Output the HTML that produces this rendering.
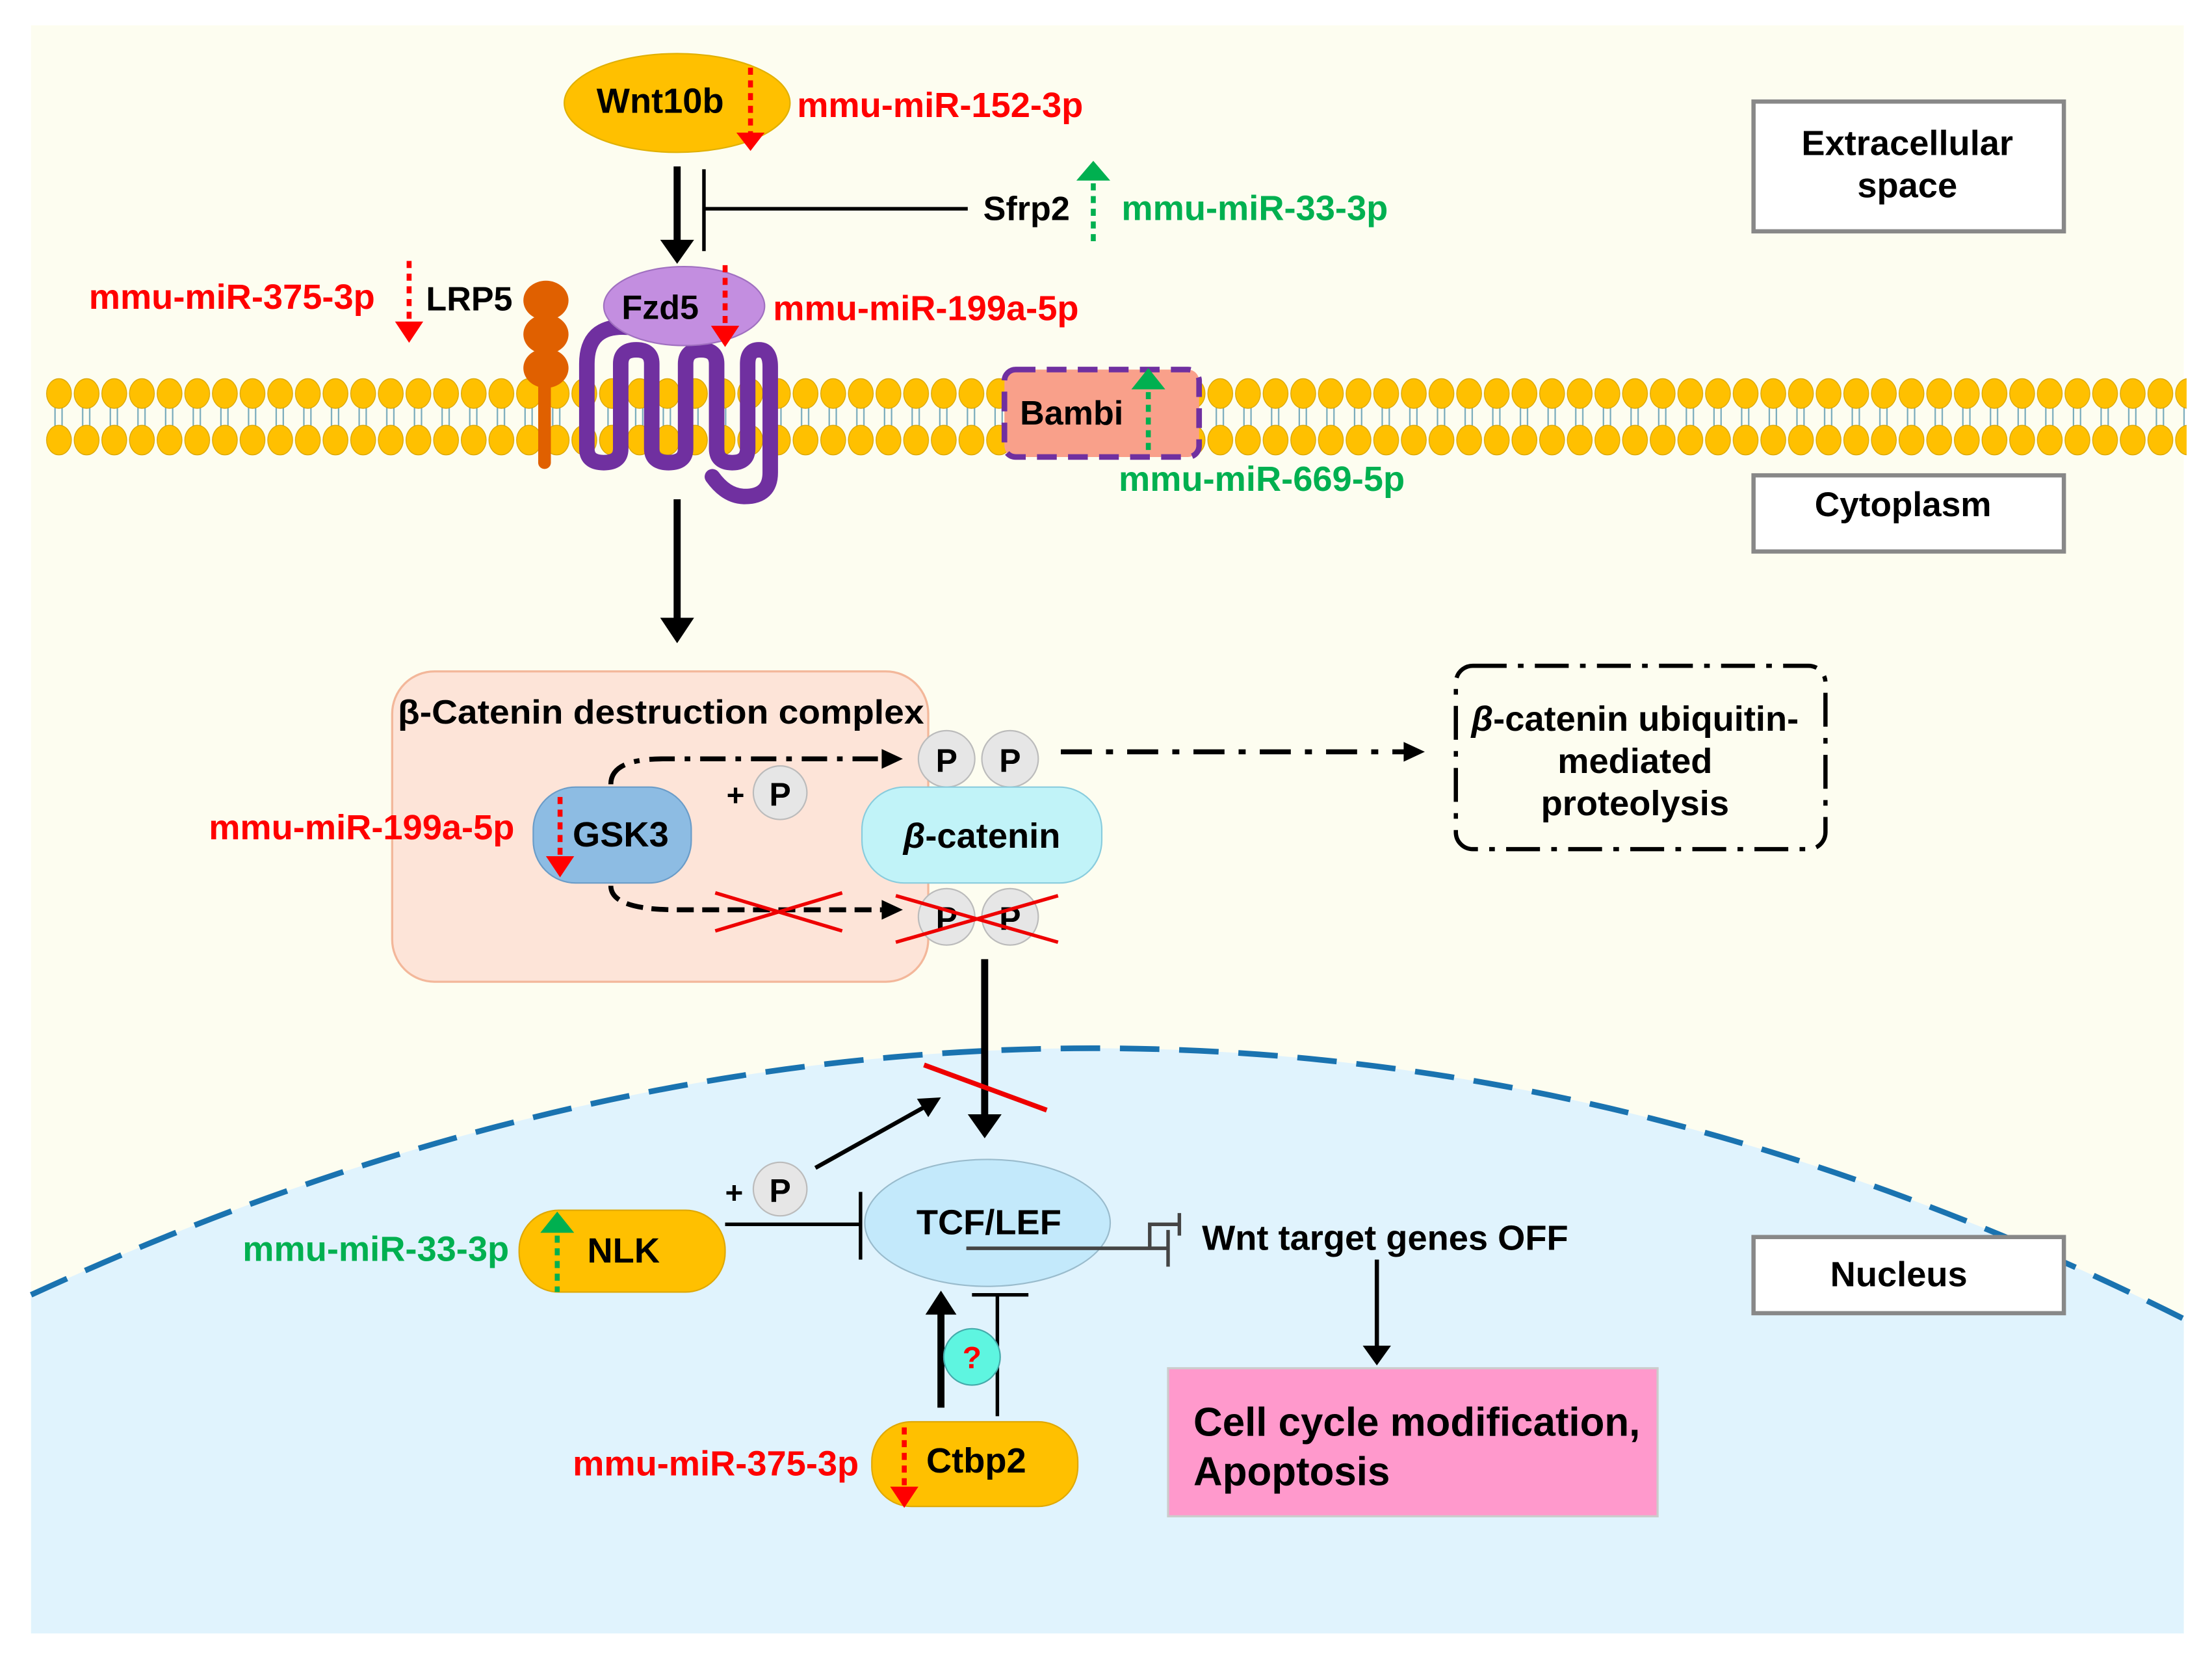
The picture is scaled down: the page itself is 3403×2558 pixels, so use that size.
<!DOCTYPE html>
<html><head><meta charset="utf-8"><style>
html,body{margin:0;padding:0;background:#fff;width:3403px;height:2558px;overflow:hidden}
svg{display:block}
text{font-family:"Liberation Sans",Arial,sans-serif;font-weight:bold}
</style></head><body>
<svg width="3403" height="2558" viewBox="0 0 1568 1179" preserveAspectRatio="none" xmlns="http://www.w3.org/2000/svg">
<defs>
<pattern id="lip" x="32" y="260" width="19.6" height="70" patternUnits="userSpaceOnUse">
<line x1="7" y1="285" x2="7" y2="305" stroke="#7ab" stroke-width="1" transform="translate(0,-260)"/>
<line x1="12" y1="285" x2="12" y2="305" stroke="#7ab" stroke-width="1" transform="translate(0,-260)"/>
<ellipse cx="9.8" cy="19" rx="8.8" ry="10.5" fill="#ffc000" stroke="#d9a400" stroke-width="0.6"/>
<ellipse cx="9.8" cy="52" rx="8.8" ry="10.5" fill="#ffc000" stroke="#d9a400" stroke-width="0.6"/>
</pattern>
</defs>
<rect x="22" y="18" width="1526" height="1140" fill="#fdfdf0"/>
<path d="M22,918 Q800,560 1548,935 L1548,1158 L22,1158 Z" fill="#e0f3fd"/>
<path d="M22,918 Q800,560 1548,935" fill="none" stroke="#1a73b0" stroke-width="4" stroke-dasharray="28 14"/>
<rect x="32" y="262" width="1518" height="66" fill="url(#lip)"/>

<rect x="1243" y="72" width="220" height="92" fill="#fff" stroke="#888" stroke-width="3"/>
<text x="1352" y="110" font-size="25" text-anchor="middle">Extracellular</text>
<text x="1352" y="140" font-size="25" text-anchor="middle">space</text>
<rect x="1243" y="337" width="220" height="54" fill="#fff" stroke="#888" stroke-width="3"/>
<text x="1349" y="366" font-size="24.5" text-anchor="middle">Cytoplasm</text>
<rect x="1243" y="877" width="220" height="54" fill="#fff" stroke="#888" stroke-width="3"/>
<text x="1346" y="912" font-size="25" text-anchor="middle">Nucleus</text>

<ellipse cx="480" cy="73" rx="80" ry="35" fill="#ffc000" stroke="#e0b000"/>
<text x="468" y="80" font-size="25" text-anchor="middle">Wnt10b</text>
<line x1="532" y1="48" x2="532" y2="95" stroke="#f00" stroke-width="3.5" stroke-dasharray="5 4"/>
<path d="M522,94 L542,94 L532,107 Z" fill="#f00"/>
<text x="565" y="83" font-size="25" fill="#f00">mmu-miR-152-3p</text>

<line x1="480" y1="118" x2="480" y2="172" stroke="#000" stroke-width="5"/>
<path d="M468,170 L492,170 L480,187 Z" fill="#000"/>
<line x1="499" y1="120" x2="499" y2="178" stroke="#000" stroke-width="2.5"/>
<line x1="499" y1="148" x2="686" y2="148" stroke="#000" stroke-width="2.5"/>
<text x="697" y="156" font-size="24">Sfrp2</text>
<path d="M763,128 L787,128 L775,114 Z" fill="#00b050"/>
<line x1="775" y1="130" x2="775" y2="173" stroke="#00b050" stroke-width="3.5" stroke-dasharray="5 4"/>
<text x="795" y="156" font-size="25" fill="#00b050">mmu-miR-33-3p</text>

<line x1="386" y1="268" x2="386" y2="328" stroke="#e06000" stroke-width="9" stroke-linecap="round"/>
<ellipse cx="387" cy="213" rx="16" ry="14" fill="#e06000"/>
<ellipse cx="387" cy="237" rx="16" ry="14" fill="#e06000"/>
<ellipse cx="387" cy="261" rx="16" ry="14" fill="#e06000"/>
<text x="302" y="220" font-size="24">LRP5</text>
<line x1="290" y1="185" x2="290" y2="228" stroke="#f00" stroke-width="3.5" stroke-dasharray="5 4"/>
<path d="M280,228 L300,228 L290,243 Z" fill="#f00"/>
<text x="63" y="219" font-size="25" fill="#f00">mmu-miR-375-3p</text>

<path d="M445,232 Q416,230 416,258 L416,318 Q416,328 428,328 Q440,328 440,318 L440,258 Q440,248 451,248 Q462,248 462,258 L462,318 Q462,328 474,328 Q486,328 486,318 L486,258 Q486,248 497,248 Q508,248 508,258 L508,318 Q508,328 519,328 Q530,328 530,318 L530,258 Q530,248 538,248 Q546,248 546,260 L546,335 Q546,352 528,352 Q515,352 505,338" fill="none" stroke="#7030a0" stroke-width="11" stroke-linecap="round" stroke-linejoin="round"/>
<ellipse cx="485" cy="217" rx="57" ry="28" fill="#c38ee0" stroke="#a070c0"/>
<text x="468" y="226" font-size="24" text-anchor="middle">Fzd5</text>
<line x1="514" y1="188" x2="514" y2="232" stroke="#f00" stroke-width="3.5" stroke-dasharray="5 4"/>
<path d="M504,231 L524,231 L514,246 Z" fill="#f00"/>
<text x="548" y="227" font-size="25" fill="#f00">mmu-miR-199a-5p</text>

<rect x="712" y="262" width="138" height="62" rx="8" fill="#f9a08a" stroke="#7030a0" stroke-width="4" stroke-dasharray="14 8"/>
<text x="723" y="301" font-size="24">Bambi</text>
<path d="M802,276 L826,276 L814,261 Z" fill="#00b050"/>
<line x1="814" y1="278" x2="814" y2="322" stroke="#00b050" stroke-width="3.5" stroke-dasharray="5 4"/>
<text x="793" y="348" font-size="25" fill="#00b050">mmu-miR-669-5p</text>

<line x1="480" y1="354" x2="480" y2="440" stroke="#000" stroke-width="5"/>
<path d="M468,438 L492,438 L480,456 Z" fill="#000"/>

<rect x="278" y="476" width="380" height="220" rx="30" fill="#fde4d8" stroke="#f3b79a" stroke-width="1.5"/>
<text x="282" y="513" font-size="24" textLength="373" lengthAdjust="spacingAndGlyphs">β-Catenin destruction complex</text>
<path d="M433,556 Q433,538 470,538 L625,538" fill="none" stroke="#000" stroke-width="3.5" stroke-dasharray="18 7 4 7"/>
<path d="M625,531 L640,538 L625,545 Z" fill="#000"/>
<path d="M433,628 Q433,645 480,645 L625,645" fill="none" stroke="#000" stroke-width="3.5" stroke-dasharray="12 6"/>
<path d="M625,638 L640,645 L625,652 Z" fill="#000"/>
<line x1="507" y1="633" x2="597" y2="660" stroke="#e00" stroke-width="2.5"/>
<line x1="507" y1="660" x2="597" y2="633" stroke="#e00" stroke-width="2.5"/>
<text x="515" y="571" font-size="22">+</text>
<circle cx="553" cy="562" r="19" fill="#e6e6e6" stroke="#bbb"/>
<text x="553" y="571" font-size="23" text-anchor="middle">P</text>
<rect x="378" y="558" width="112" height="68" rx="30" fill="#8dbce3" stroke="#6a9cc8"/>
<text x="440" y="600" font-size="25" text-anchor="middle">GSK3</text>
<line x1="397" y1="565" x2="397" y2="608" stroke="#f00" stroke-width="3.5" stroke-dasharray="5 4"/>
<path d="M387,607 L407,607 L397,622 Z" fill="#f00"/>
<text x="148" y="595" font-size="25" fill="#f00">mmu-miR-199a-5p</text>

<circle cx="671" cy="538" r="20" fill="#e6e6e6" stroke="#bbb"/>
<circle cx="716" cy="538" r="20" fill="#e6e6e6" stroke="#bbb"/>
<text x="671" y="547" font-size="23" text-anchor="middle">P</text>
<text x="716" y="547" font-size="23" text-anchor="middle">P</text>
<circle cx="671" cy="650" r="20" fill="#e6e6e6" stroke="#bbb"/>
<circle cx="716" cy="650" r="20" fill="#e6e6e6" stroke="#bbb"/>
<text x="671" y="659" font-size="23" text-anchor="middle">P</text>
<text x="716" y="659" font-size="23" text-anchor="middle">P</text>
<line x1="635" y1="635" x2="750" y2="668" stroke="#e00" stroke-width="2.5"/>
<line x1="635" y1="668" x2="750" y2="635" stroke="#e00" stroke-width="2.5"/>
<rect x="611" y="558" width="170" height="68" rx="30" fill="#c1f3f8" stroke="#8cd"/>
<text x="696" y="601" font-size="25" text-anchor="middle"><tspan font-style="italic">β</tspan>-catenin</text>

<line x1="752" y1="533" x2="997" y2="533" stroke="#000" stroke-width="3.5" stroke-dasharray="22 10 5 10"/>
<path d="M995,526 L1010,533 L995,540 Z" fill="#000"/>
<rect x="1032" y="472" width="262" height="130" rx="12" fill="none" stroke="#000" stroke-width="3" stroke-dasharray="24 8 4 8"/>
<text x="1159" y="518" font-size="25" text-anchor="middle"><tspan font-style="italic">β</tspan>-catenin ubiquitin-</text>
<text x="1159" y="548" font-size="25" text-anchor="middle">mediated</text>
<text x="1159" y="578" font-size="25" text-anchor="middle">proteolysis</text>

<line x1="698" y1="680" x2="698" y2="792" stroke="#000" stroke-width="5"/>
<path d="M686,790 L710,790 L698,807 Z" fill="#000"/>
<line x1="655" y1="755" x2="742" y2="787" stroke="#e00" stroke-width="3.5"/>
<line x1="578" y1="828" x2="655" y2="785" stroke="#000" stroke-width="3"/>
<path d="M667,778 L650,779 L658,792 Z" fill="#000"/>
<text x="514" y="853" font-size="22">+</text>
<circle cx="553" cy="843" r="19" fill="#e6e6e6" stroke="#bbb"/>
<text x="553" y="852" font-size="23" text-anchor="middle">P</text>

<ellipse cx="700" cy="867" rx="87" ry="45" fill="#c3e9fb" stroke="#9bc"/>
<text x="701" y="875" font-size="25" text-anchor="middle">TCF/LEF</text>
<line x1="514" y1="868" x2="610" y2="868" stroke="#000" stroke-width="2.5"/>
<line x1="610" y1="845" x2="610" y2="893" stroke="#000" stroke-width="2.5"/>
<rect x="368" y="858" width="146" height="58" rx="28" fill="#ffc000" stroke="#e0a800"/>
<text x="442" y="895" font-size="25" text-anchor="middle">NLK</text>
<path d="M383,874 L407,874 L395,859 Z" fill="#00b050"/>
<line x1="395" y1="876" x2="395" y2="916" stroke="#00b050" stroke-width="3.5" stroke-dasharray="5 4"/>
<text x="172" y="894" font-size="25" fill="#00b050">mmu-miR-33-3p</text>

<line x1="685" y1="885" x2="828" y2="885" stroke="#444" stroke-width="2.5"/>
<line x1="828" y1="872" x2="828" y2="898" stroke="#444" stroke-width="2.5"/>
<path d="M815,885 L815,868 L836,868" fill="none" stroke="#444" stroke-width="2.5"/>
<line x1="836" y1="860" x2="836" y2="876" stroke="#444" stroke-width="2.5"/>
<text x="852" y="886" font-size="25">Wnt target genes OFF</text>
<line x1="976" y1="893" x2="976" y2="956" stroke="#000" stroke-width="3"/>
<path d="M966,954 L986,954 L976,968 Z" fill="#000"/>
<rect x="828" y="970" width="347" height="105" fill="#ff99cc" stroke="#ccc" stroke-width="1.5"/>
<text x="846" y="1018" font-size="28.5">Cell cycle modification,</text>
<text x="846" y="1053" font-size="28.5">Apoptosis</text>

<line x1="667" y1="998" x2="667" y2="930" stroke="#000" stroke-width="5"/>
<path d="M656,932 L678,932 L667,915 Z" fill="#000"/>
<line x1="707" y1="1004" x2="707" y2="918" stroke="#000" stroke-width="2.5"/>
<line x1="689" y1="918" x2="729" y2="918" stroke="#000" stroke-width="2.5"/>
<circle cx="689" cy="962" r="20" fill="#5ef5e0" stroke="#4aa"/>
<text x="689" y="970" font-size="22" text-anchor="middle" fill="#f00" font-family="Liberation Serif">?</text>
<rect x="618" y="1008" width="146" height="60" rx="28" fill="#ffc000" stroke="#e0a800"/>
<text x="692" y="1044" font-size="25" text-anchor="middle">Ctbp2</text>
<line x1="641" y1="1012" x2="641" y2="1055" stroke="#f00" stroke-width="3.5" stroke-dasharray="5 4"/>
<path d="M631,1054 L651,1054 L641,1069 Z" fill="#f00"/>
<text x="406" y="1046" font-size="25" fill="#f00">mmu-miR-375-3p</text>
</svg>
</body></html>
